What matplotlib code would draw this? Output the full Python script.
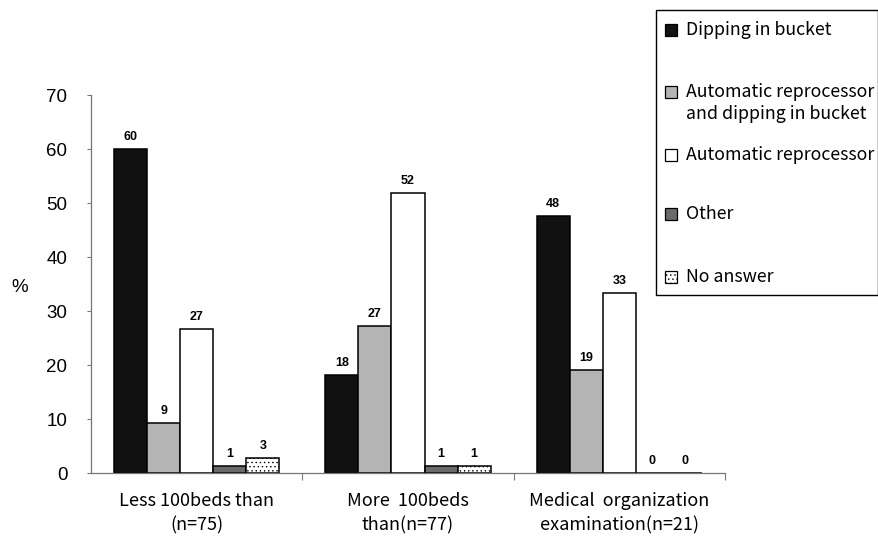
import matplotlib
matplotlib.use("Agg")
import matplotlib.pyplot as plt
from matplotlib.patches import Rectangle
import numpy as np

groups = ["Less 100beds than\n(n=75)", "More  100beds\nthan(n=77)",
          "Medical  organization\nexamination(n=21)"]
series = ["Dipping in bucket",
          "Automatic reprocessor\nand dipping in bucket",
          "Automatic reprocessor",
          "Other",
          "No answer"]
dipping = [60.0, 18.2, 47.6]
auto_and_dipping = [9.3, 27.3, 19.0]
auto_only = [26.7, 51.9, 33.3]
other = [1.3, 1.3, 0.0]
no_answer = [2.7, 1.3, 0.0]
yticks = [0, 10, 20, 30, 40, 50, 60, 70]

values = [dipping, auto_and_dipping, auto_only, other, no_answer]
colors = ["#111111", "#b4b4b4", "#ffffff", "#6a6a6a", "#ffffff"]
hatches = [None, None, None, None, "...."]

plt.rcParams["font.family"] = ["Liberation Sans", "DejaVu Sans"]
plt.rcParams["hatch.linewidth"] = 0.5
plt.rcParams["hatch.color"] = "#555555"

fig = plt.figure(figsize=(8.79, 5.37), dpi=100)
ax = fig.add_axes([91 / 879, 1 - 473 / 537, (725 - 91) / 879, (473 - 95) / 537])

x = np.arange(len(groups))
width = 33 / 211
offsets = (np.arange(len(series)) - 2) * width

for vals, col, hat, off in zip(values, colors, hatches, offsets):
    bars = ax.bar(x + off, vals, width, color=col, edgecolor="black",
                  linewidth=1.1, hatch=hat, zorder=2)
    for b, v in zip(bars, vals):
        ax.text(b.get_x() + b.get_width() / 2, v + 1.1, f"{v:.0f}",
                ha="center", va="bottom", fontsize=9, fontweight="bold")

ax.set_xlim(-0.5, len(groups) - 0.5)
ax.set_ylim(0, 70)
ax.set_yticks(yticks)
ax.set_yticklabels([str(t) for t in yticks], fontsize=13.5)
ax.tick_params(axis="y", length=3, width=0.8, color="#777777", pad=14)

# category separators as x ticks
ax.set_xticks([0.5, 1.5, 2.5])
ax.set_xticklabels([])
ax.tick_params(axis="x", length=5, width=0.8, color="#777777")
ax.set_xticks(x, minor=True)
ax.set_xticklabels(groups, minor=True, fontsize=13,
                   family=["Noto Sans CJK JP", "DejaVu Sans"], linespacing=1.4)
ax.tick_params(axis="x", which="minor", length=0, pad=14)

for s in ["top", "right"]:
    ax.spines[s].set_visible(False)
for s in ["left", "bottom"]:
    ax.spines[s].set_color("#777777")
    ax.spines[s].set_linewidth(0.9)

fig.text(20 / 879, 1 - 287 / 537, "%", fontsize=13.5, ha="center", va="center")

# legend panel
W, H = 879, 537
box = Rectangle((656 / W, 1 - 295 / H), (878 - 656) / W, (295 - 10) / H,
                transform=fig.transFigure, facecolor="white", edgecolor="black",
                linewidth=1.0)
fig.add_artist(box)
entry_y = [30, 92, 155, 214, 277]
for name, col, hat, yy in zip(series, colors, hatches, entry_y):
    sq = Rectangle((665 / W, 1 - (yy + 6) / H), 12 / W, 12 / H,
                   transform=fig.transFigure, facecolor=col, edgecolor="black",
                   linewidth=0.9, hatch=hat)
    fig.add_artist(sq)
    lines = name.split("\n")
    for k, line in enumerate(lines):
        fig.text(686 / W, 1 - (yy + 22 * k) / H, line, fontsize=12.8,
                 ha="left", va="center",
                 family=["Noto Sans CJK JP", "DejaVu Sans"])

fig.savefig("out.png", dpi=100)
